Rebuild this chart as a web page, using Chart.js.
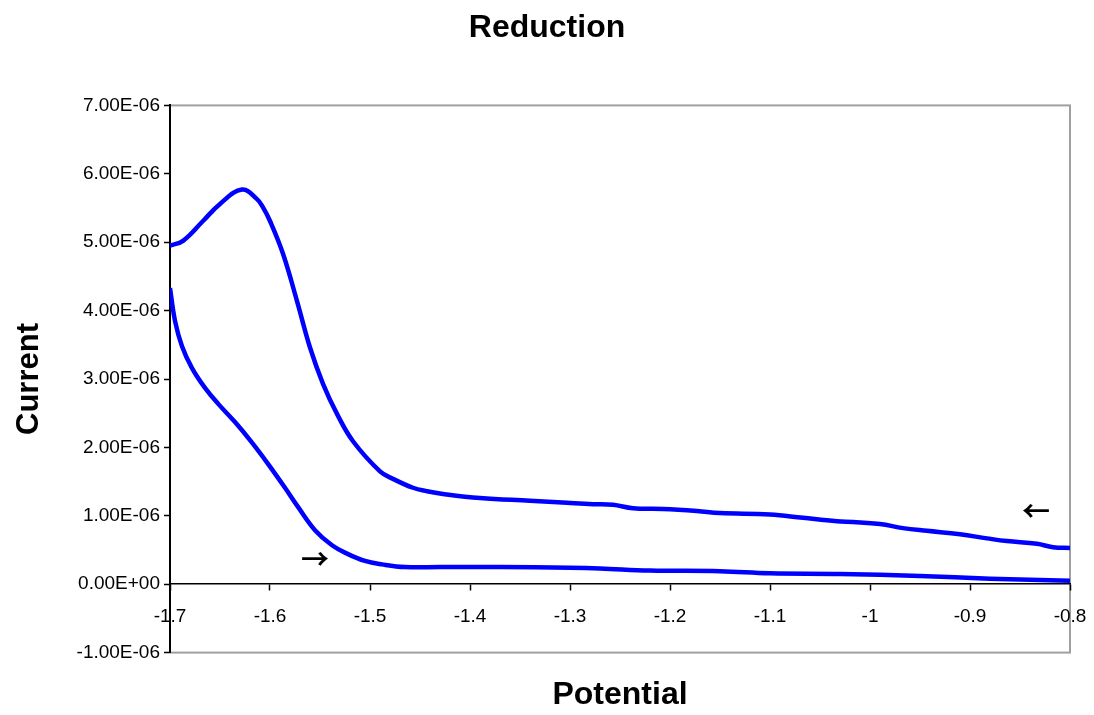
<!DOCTYPE html>
<html>
<head>
<meta charset="utf-8">
<title>Reduction</title>
<script src="https://cdn.jsdelivr.net/npm/chart.js@4.4.1/dist/chart.umd.min.js"></script>
<style>
  html, body { margin: 0; padding: 0; background: #fff; }
  #wrap { width: 1094px; height: 715px; }
</style>
</head>
<body>
<div id="wrap"><canvas id="cv-chart"></canvas></div>
<script>
// forward sweep (-1.7 V -> -0.8 V)
const forwardPotential = [-1.700, -1.695, -1.688, -1.678, -1.665, -1.652, -1.635, -1.618, -1.602, -1.585, -1.572, -1.555, -1.538, -1.522, -1.505, -1.488, -1.465, -1.430, -1.370, -1.300, -1.270, -1.220, -1.150, -1.100, -1.030, -0.950, -0.880, -0.800];
const forwardCurrent = [4.33e-6, 3.85e-6, 3.48e-6, 3.16e-6, 2.87e-6, 2.64e-6, 2.37e-6, 2.07e-6, 1.76e-6, 1.41e-6, 1.13e-6, 0.79e-6, 0.57e-6, 0.44e-6, 0.34e-6, 0.29e-6, 0.25e-6, 0.25e-6, 0.25e-6, 0.24e-6, 0.23e-6, 0.20e-6, 0.19e-6, 0.16e-6, 0.15e-6, 0.12e-6, 0.08e-6, 0.05e-6];

// reverse sweep (-0.8 V -> -1.7 V)
const reversePotential = [-0.800, -0.817, -0.833, -0.863, -0.883, -0.910, -0.943, -0.967, -0.990, -1.017, -1.033, -1.067, -1.100, -1.150, -1.173, -1.207, -1.237, -1.257, -1.277, -1.303, -1.340, -1.390, -1.427, -1.443, -1.457, -1.477, -1.490, -1.517, -1.533, -1.547, -1.560, -1.573, -1.587, -1.600, -1.607, -1.613, -1.628, -1.650, -1.667, -1.687, -1.700];
const reverseCurrent = [0.53e-6, 0.54e-6, 0.59e-6, 0.63e-6, 0.67e-6, 0.73e-6, 0.78e-6, 0.82e-6, 0.88e-6, 0.91e-6, 0.92e-6, 0.97e-6, 1.02e-6, 1.04e-6, 1.07e-6, 1.10e-6, 1.11e-6, 1.16e-6, 1.17e-6, 1.19e-6, 1.22e-6, 1.26e-6, 1.32e-6, 1.36e-6, 1.41e-6, 1.54e-6, 1.65e-6, 2.09e-6, 2.49e-6, 2.93e-6, 3.46e-6, 4.14e-6, 4.83e-6, 5.31e-6, 5.51e-6, 5.63e-6, 5.77e-6, 5.56e-6, 5.31e-6, 5.02e-6, 4.95e-6];

const potentialTicks = [-1.7, -1.6, -1.5, -1.4, -1.3, -1.2, -1.1, -1.0, -0.9, -0.8];
const currentTicks = [-1e-6, 0, 1e-6, 2e-6, 3e-6, 4e-6, 5e-6, 6e-6, 7e-6];

// sweep direction markers
const arrowText = ['\u2192', '\u2190'];
const arrowPotential = [-1.555, -0.834];
const arrowCurrent = [0.36e-6, 1.07e-6];

const FONT = '"Liberation Sans", Arial, sans-serif';

function toPoints(xs, ys) {
    return xs.map((x, i) => ({ x: x, y: ys[i] }));
}

// 7e-6 -> "7.00E-06"
function sci(v) {
    const parts = Number(v).toExponential(2).split('e');
    const exp = parts[1];
    return parts[0] + 'E' + exp[0] + exp.slice(1).padStart(2, '0');
}

const plotFrame = {
    id: 'plotFrame',
    beforeDraw(chart) {
        const { ctx, chartArea: a } = chart;
        ctx.save();
        ctx.strokeStyle = '#a0a0a0';
        ctx.lineWidth = 2;
        ctx.strokeRect(a.left, a.top, a.right - a.left, a.bottom - a.top);
        ctx.restore();
    }
};

const sweepArrows = {
    id: 'sweepArrows',
    afterDatasetsDraw(chart) {
        const { ctx, scales } = chart;
        ctx.save();
        ctx.fillStyle = '#000';
        ctx.font = 'bold 28px "Noto Sans CJK JP", sans-serif';
        ctx.textAlign = 'center';
        ctx.textBaseline = 'middle';
        arrowText.forEach((t, i) => {
            ctx.fillText(t, scales.x.getPixelForValue(arrowPotential[i]), scales.y.getPixelForValue(arrowCurrent[i]));
        });
        ctx.restore();
    }
};

const lineStyle = {
    showLine: true,
    borderColor: '#0000ff',
    borderWidth: 4.5,
    pointRadius: 0,
    tension: 0.4,
    fill: false
};

new Chart(document.getElementById('cv-chart'), {
    type: 'scatter',
    data: {
        datasets: [
            Object.assign({ label: 'Forward', data: toPoints(forwardPotential, forwardCurrent) }, lineStyle),
            Object.assign({ label: 'Reverse', data: toPoints(reversePotential, reverseCurrent) }, lineStyle)
        ]
    },
    options: {
        responsive: true,
        maintainAspectRatio: false,
        animation: false,
        layout: { padding: { left: 24, right: 24, top: 0, bottom: 0 } },
        scales: {
            x: {
                type: 'linear',
                min: -1.7,
                max: -0.8,
                position: { y: 0 },
                afterBuildTicks: (scale) => { scale.ticks = potentialTicks.map(v => ({ value: v })); },
                afterFit: (scale) => {
                    scale.height = 0;
                    scale.paddingLeft = 0;
                    scale.paddingRight = 0;
                },
                grid: { drawOnChartArea: false, drawTicks: true, tickLength: 6, tickColor: '#000', tickWidth: 1.5 },
                border: { color: '#000', width: 1.5 },
                ticks: {
                    color: '#000',
                    padding: 15,
                    font: { family: FONT, size: 19 },
                    callback: (v) => String(Math.round(v * 10) / 10)
                }
            },
            y: {
                type: 'linear',
                min: -1e-6,
                max: 7e-6,
                position: 'left',
                afterBuildTicks: (scale) => { scale.ticks = currentTicks.map(v => ({ value: v })); },
                afterFit: (scale) => { scale.width = 146; },
                title: {
                    display: true,
                    text: 'Current',
                    color: '#000',
                    padding: { top: -13, bottom: 0 },
                    font: { family: FONT, size: 31, weight: 'bold' }
                },
                grid: { drawOnChartArea: false, drawTicks: true, tickLength: 6, tickColor: '#000', tickWidth: 1.5 },
                border: { color: '#000', width: 2 },
                ticks: {
                    color: '#000',
                    padding: 4,
                    font: { family: FONT, size: 19 },
                    callback: (v) => sci(v)
                }
            }
        },
        plugins: {
            legend: { display: false },
            tooltip: { enabled: false },
            title: {
                display: true,
                text: 'Reduction',
                color: '#000',
                padding: { top: 9, bottom: 58 },
                font: { family: FONT, size: 32, weight: 'bold' }
            },
            subtitle: {
                display: true,
                text: 'Potential',
                position: 'bottom',
                fullSize: false,
                color: '#000',
                padding: { top: 23, bottom: 1 },
                font: { family: FONT, size: 32, weight: 'bold' }
            }
        }
    },
    plugins: [plotFrame, sweepArrows]
});
</script>
</body>
</html>
